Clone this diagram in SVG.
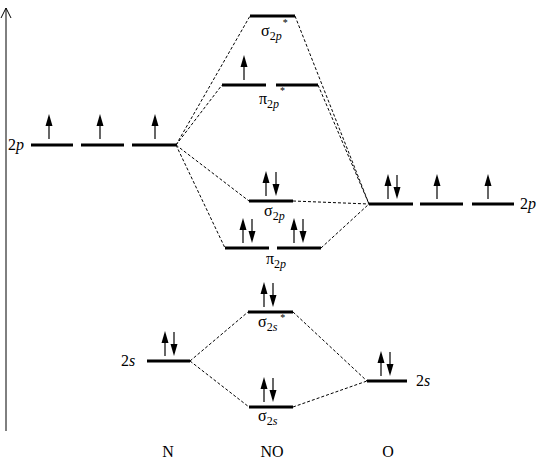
<svg xmlns="http://www.w3.org/2000/svg" width="544" height="474" viewBox="0 0 544 474">
<style>
.lvl{stroke:#000;stroke-width:3;fill:none}
.dash{stroke:#000;stroke-width:1;stroke-dasharray:3,2;fill:none}
text{font-family:'Liberation Serif','DejaVu Serif',serif;font-size:16px;fill:#000}
.i{font-style:italic}
.sub{font-size:12px}
.st{font-size:10px}
</style>
<defs>
<g id="up"><line x1="0" y1="0" x2="0" y2="-16" stroke="#000" stroke-width="1.2"/><polygon points="0,-25 -3.5,-13 3.5,-13" fill="#000"/></g>
<g id="dn"><line x1="0" y1="-24" x2="0" y2="-9" stroke="#000" stroke-width="1.2"/><polygon points="0,0 -3.5,-12 3.5,-12" fill="#000"/></g>
</defs>
<rect width="544" height="474" fill="#fff"/>
<g id="axis">
<line x1="6" y1="8" x2="6" y2="431" stroke="#000" stroke-width="1"/>
<polyline points="1,18 6,8 11,18" stroke="#000" stroke-width="1" fill="none"/>
</g>
<g id="connectors">
<line class="dash" x1="176" y1="145" x2="250" y2="16"/>
<line class="dash" x1="176" y1="145" x2="222" y2="85"/>
<line class="dash" x1="176" y1="145" x2="249" y2="201"/>
<line class="dash" x1="176" y1="145" x2="225" y2="248"/>
<line class="dash" x1="295" y1="16" x2="369" y2="204"/>
<line class="dash" x1="318" y1="85" x2="369" y2="204"/>
<line class="dash" x1="293" y1="201" x2="369" y2="204"/>
<line class="dash" x1="321" y1="248" x2="369" y2="204"/>
<line class="dash" x1="190" y1="361" x2="248" y2="312"/>
<line class="dash" x1="190" y1="361" x2="249" y2="407"/>
<line class="dash" x1="293" y1="312" x2="367" y2="381"/>
<line class="dash" x1="293" y1="407" x2="367" y2="381"/>
</g>
<g id="N-2p">
<line class="lvl" x1="31" y1="145" x2="73" y2="145"/>
<line class="lvl" x1="81" y1="145" x2="124" y2="145"/>
<line class="lvl" x1="132" y1="145" x2="176" y2="145"/>
<use href="#up" x="49" y="139"/>
<use href="#up" x="100" y="139"/>
<use href="#up" x="155" y="139"/>
<text x="8" y="150">2<tspan class="i">p</tspan></text>
</g>
<g id="sigma2p-star">
<line class="lvl" x1="250" y1="16" x2="295" y2="16"/>
<text x="261" y="36">σ<tspan class="sub" dy="4">2<tspan class="i">p</tspan></tspan><tspan class="st" dx="1" dy="-14">*</tspan></text>
</g>
<g id="pi2p-star">
<line class="lvl" x1="222" y1="85" x2="266" y2="85"/>
<line class="lvl" x1="276" y1="85" x2="318" y2="85"/>
<use href="#up" x="244" y="80"/>
<text x="259" y="104">π<tspan class="sub" dy="4">2<tspan class="i">p</tspan></tspan><tspan class="st" dx="1" dy="-14">*</tspan></text>
</g>
<g id="sigma2p">
<line class="lvl" x1="249" y1="201" x2="293" y2="201"/>
<use href="#up" x="266" y="196"/>
<use href="#dn" x="276" y="196"/>
<text x="264" y="216">σ<tspan class="sub" dy="4">2<tspan class="i">p</tspan></tspan></text>
</g>
<g id="pi2p">
<line class="lvl" x1="225" y1="248" x2="269" y2="248"/>
<line class="lvl" x1="277" y1="248" x2="321" y2="248"/>
<use href="#up" x="243" y="243"/>
<use href="#dn" x="252" y="243"/>
<use href="#up" x="294" y="243"/>
<use href="#dn" x="303" y="243"/>
<text x="266" y="264">π<tspan class="sub" dy="4">2<tspan class="i">p</tspan></tspan></text>
</g>
<g id="O-2p">
<line class="lvl" x1="369" y1="204" x2="413" y2="204"/>
<line class="lvl" x1="420" y1="204" x2="463" y2="204"/>
<line class="lvl" x1="472" y1="204" x2="514" y2="204"/>
<use href="#up" x="388" y="199"/>
<use href="#dn" x="397" y="199"/>
<use href="#up" x="437" y="199"/>
<use href="#up" x="488" y="199"/>
<text x="520" y="209">2<tspan class="i">p</tspan></text>
</g>
<g id="N-2s">
<line class="lvl" x1="147" y1="361" x2="190" y2="361"/>
<use href="#up" x="165" y="356"/>
<use href="#dn" x="174" y="356"/>
<text x="121" y="366">2<tspan class="i">s</tspan></text>
</g>
<g id="sigma2s-star">
<line class="lvl" x1="248" y1="312" x2="293" y2="312"/>
<use href="#up" x="264" y="307"/>
<use href="#dn" x="273" y="307"/>
<text x="258" y="327">σ<tspan class="sub" dy="4">2<tspan class="i">s</tspan></tspan><tspan class="st" dx="3" dy="-10">*</tspan></text>
</g>
<g id="sigma2s">
<line class="lvl" x1="249" y1="407" x2="293" y2="407"/>
<use href="#up" x="264" y="402"/>
<use href="#dn" x="273" y="402"/>
<text x="258" y="421">σ<tspan class="sub" dy="4">2<tspan class="i">s</tspan></tspan></text>
</g>
<g id="O-2s">
<line class="lvl" x1="367" y1="381" x2="407" y2="381"/>
<use href="#up" x="381" y="376"/>
<use href="#dn" x="390" y="376"/>
<text x="416" y="386">2<tspan class="i">s</tspan></text>
</g>
<g id="labels">
<text x="168" y="457" text-anchor="middle">N</text>
<text x="272" y="457" text-anchor="middle">NO</text>
<text x="388" y="457" text-anchor="middle">O</text>
</g>
</svg>
